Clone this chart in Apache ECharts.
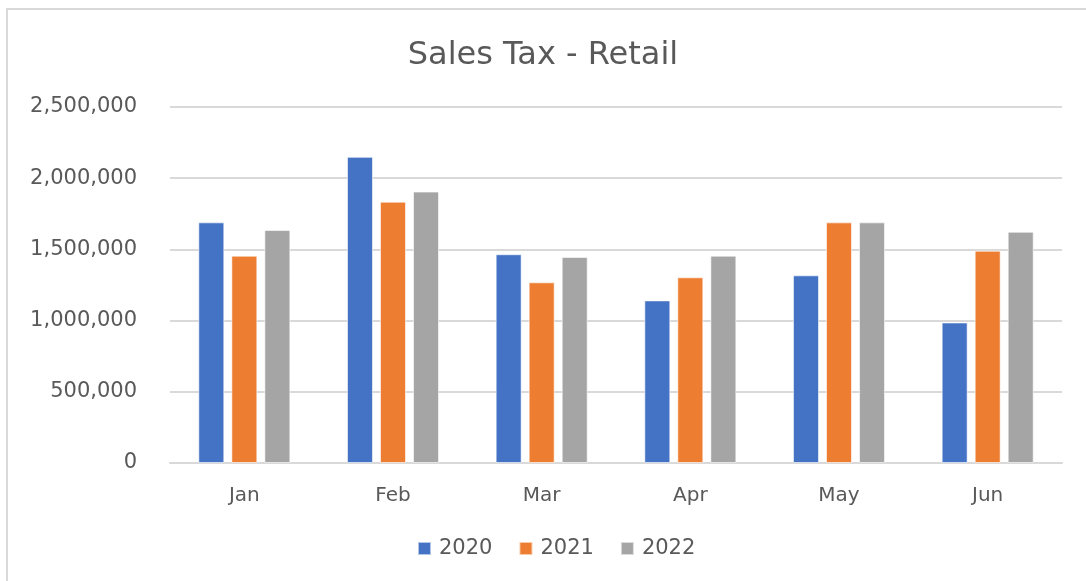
<!DOCTYPE html>
<html>
<head>
<meta charset="utf-8">
<script src="https://cdn.jsdelivr.net/npm/echarts@6/dist/echarts.min.js"></script>
<style>
  html, body { margin: 0; padding: 0; background: #fff; }
  #frame { position: absolute; left: 6px; top: 8px; width: 1100px; height: 600px; border: 2px solid #d9d9d9; box-sizing: border-box; }
  #chart { position: absolute; left: 0; top: 0; width: 1086px; height: 581px; }
</style>
</head>
<body>
<div id="frame"></div>
<div id="chart"></div>
<script>
const months = ['Jan', 'Feb', 'Mar', 'Apr', 'May', 'Jun'];
const years = ['2020', '2021', '2022'];
const sales2020 = [1690000, 2150000, 1466000, 1142000, 1318000, 987000];
const sales2021 = [1456000, 1835000, 1269000, 1304000, 1690000, 1491000];
const sales2022 = [1636000, 1906000, 1447000, 1456000, 1690000, 1624000];
const colors = ['#4472C4', '#ED7D31', '#A5A5A5'];

const getOption = () => {
  const data = [sales2020, sales2021, sales2022];
  return {
    animation: false,
    textStyle: { fontFamily: 'DejaVu Sans' },
    title: {
      text: 'Sales Tax - Retail',
      left: 'center',
      top: 35,
      textStyle: { fontSize: 32, fontWeight: 'normal', color: '#595959', fontFamily: 'DejaVu Sans' }
    },
    legend: {
      bottom: 17,
      left: 412,
      itemWidth: 13,
      itemHeight: 13,
      itemGap: 26,
      icon: 'rect',
      textStyle: { fontSize: 21, color: '#595959', fontFamily: 'DejaVu Sans', padding: [0, 0, 0, 3] },
      data: years
    },
    grid: { left: 170, right: 24, top: 107, bottom: 118 },
    xAxis: {
      type: 'category',
      data: months,
      axisLine: { lineStyle: { color: '#d9d9d9', width: 2 } },
      axisTick: { show: false },
      axisLabel: { color: '#595959', fontSize: 20, margin: 23, fontFamily: 'DejaVu Sans' }
    },
    yAxis: {
      type: 'value',
      min: 0,
      max: 2500000,
      interval: 500000,
      axisLine: { show: false },
      axisTick: { show: false },
      splitLine: { lineStyle: { color: '#d9d9d9', width: 2 } },
      axisLabel: {
        color: '#595959',
        fontSize: 21,
        margin: 33,
        fontFamily: 'DejaVu Sans',
        formatter: v => v.toLocaleString('en-US')
      }
    },
    series: years.map((y, i) => ({
      name: y,
      type: 'bar',
      data: data[i],
      barWidth: 26,
      barGap: '27%',
      itemStyle: { color: colors[i], borderColor: 'rgba(255,255,255,0.6)', borderWidth: 1 }
    }))
  };
};

window.addEventListener('load', () => {
  const chart = echarts.init(document.getElementById('chart'));
  chart.setOption(getOption());
});
</script>
</body>
</html>
